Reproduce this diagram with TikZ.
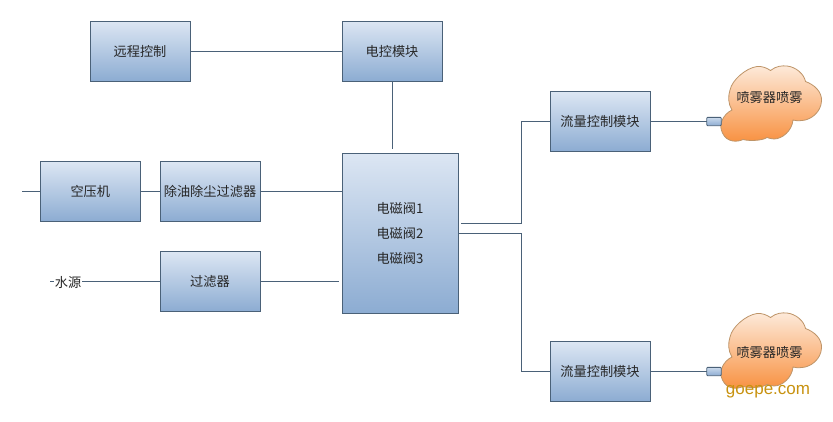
\documentclass[tikz,border=0pt]{standalone}
\usepackage{fontspec}
\setmainfont{Noto Sans CJK SC}
\newfontfamily\latinfont{Liberation Sans}
\definecolor{edgeblue}{HTML}{4A6178}
\definecolor{boxtop}{HTML}{DCE6F3}
\definecolor{boxbot}{HTML}{8CACD2}
\definecolor{cloudtop}{HTML}{FDEADA}
\definecolor{cloudbot}{HTML}{F8903F}
\definecolor{cloudedge}{HTML}{BE9468}
\definecolor{wm}{HTML}{C8920F}
\tikzset{
  x=1pt,y=-1pt,
  every node/.style={font=\fontsize{13.2}{25}\selectfont,text=black!85,inner sep=0pt,outer sep=0pt},
  blockbox/.style={draw=edgeblue,line width=1pt,top color=boxtop,bottom color=boxbot,minimum width=100pt,minimum height=60pt,align=center},
  valvebox/.style={blockbox,minimum width=116pt,minimum height=160pt},
  wire/.style={draw=edgeblue,line width=1pt},
  nozzle/.style={draw=edgeblue,line width=.9pt,rounded corners=1pt,top color=boxtop!80!boxbot,bottom color=boxbot,minimum width=14.5pt,minimum height=8.4pt},
  cloudshape/.style={draw=cloudedge,line width=.8pt,top color=cloudtop,bottom color=cloudbot},
  cloudform/.pic={
    \path[cloudshape] (721.5,122) .. controls (724,115) and (728,112) .. (732,110)
      .. controls (728,104) and (728,96) .. (730,90)
      .. controls (732,80) and (746,68) .. (757,66.5)
      .. controls (762,66) and (767,68) .. (770.5,70.5)
      .. controls (776,66) and (782,65.5) .. (787,66)
      .. controls (796,67) and (804,74) .. (805.5,81.5)
      .. controls (815,85) and (822,92) .. (821.5,101)
      .. controls (821,112) and (811,120) .. (802,120.5)
      .. controls (799,121) and (796,121) .. (793,120)
      .. controls (792,131) and (782,139) .. (774,139)
      .. controls (771,139) and (769,138) .. (767,137.5)
      .. controls (762,141) and (748,141) .. (743,139.5)
      .. controls (738,142) and (727,143) .. (722.5,133)
      .. controls (720.5,129) and (720.5,125) .. (721.5,122) -- cycle;
  },
}
\begin{document}
\begin{tikzpicture}
\useasboundingbox[fill=white] (0,0) rectangle (833,421);
% clouds
\pic at (0,0) {cloudform};
\pic at (0,247) {cloudform};
% blocks
\node[blockbox] (remote) at (140,51) {远程控制};
\node[blockbox] (ecu) at (392,51) {电控模块};
\node[blockbox] (comp) at (90.3,191.5) {空压机};
\node[blockbox] (oilf) at (210,191.5) {除油除尘过滤器};
\node[blockbox] (filt) at (210,281.5) {过滤器};
\node[valvebox] (valve) at (400,233.3) {电磁阀1\\电磁阀2\\电磁阀3};
\node[blockbox] (flowa) at (600,121.5) {流量控制模块};
\node[blockbox] (flowb) at (600,371.5) {流量控制模块};
\node[nozzle] (noza) at (714,121.5) {};
\node[nozzle] (nozb) at (714,371.5) {};
% free ends
\coordinate (airin) at (22,191.5);
\coordinate (waterin) at (50,281.5);
\coordinate (ecuend) at (392,149);
\coordinate (filtend) at (339,281.5);
\coordinate (valveout) at (461,223);
\coordinate (benda) at (521,223);
\coordinate (bendb) at (521,233.3);
% connectors
\draw[wire] (remote.east) -- (ecu.west);
\draw[wire] (ecu.south) -- (ecuend);
\draw[wire] (airin) -- (comp.west);
\draw[wire] (comp.east) -- (oilf.west);
\draw[wire] (oilf.east) -- (valve.west |- oilf.east);
\draw[wire] (waterin) -- (filt.west);
\draw[wire] (filt.east) -- (filtend);
\draw[wire] (valveout) -- (benda) |- (flowa.west);
\draw[wire] (valve.east) -- (bendb) |- (flowb.west);
\draw[wire] (flowa.east) -- (noza.west);
\draw[wire] (flowb.east) -- (nozb.west);
\node[fill=white,inner xsep=.5pt,inner ysep=0pt] (water) at (68,282) {水源};
\node (clouda) at (769.5,97.5) {喷雾器喷雾};
\node (cloudb) at (769.5,352.5) {喷雾器喷雾};
\node[text=wm,font=\latinfont\fontsize{17}{17}\selectfont] (mark) at (768,392) {goepe.com};
\end{tikzpicture}
\end{document}
